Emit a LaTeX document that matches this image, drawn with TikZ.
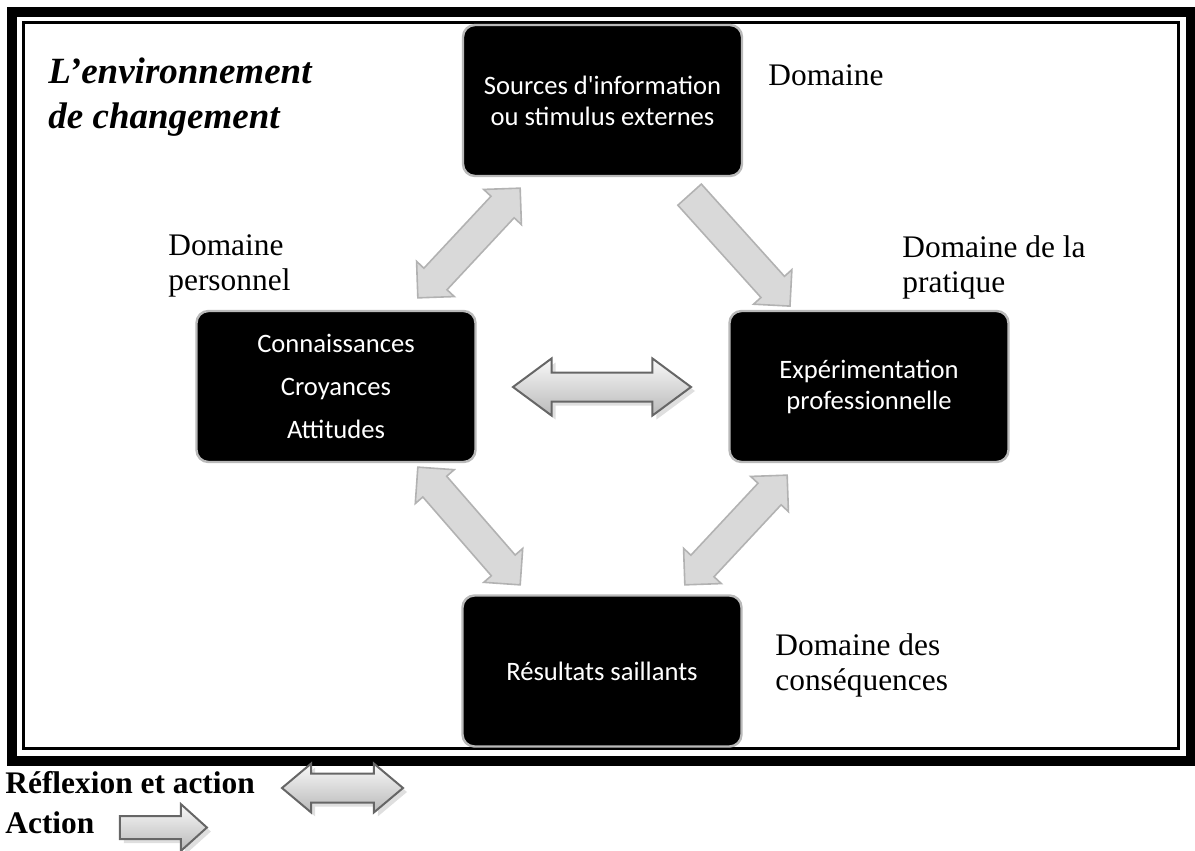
\documentclass[tikz,border=0pt]{standalone}
\usepackage{fontspec}
\setmainfont{Liberation Serif}
\newfontfamily\boxfont{Carlito}
\usepackage{tikz}
\usetikzlibrary{shapes.arrows}
\usetikzlibrary{shadows}
\pgfdeclarelayer{edgelayer}
\pgfdeclarelayer{nodelayer}
\pgfsetlayers{edgelayer,nodelayer,main}
\tikzstyle{dombox}=[rectangle,rounded corners=6pt,fill=black,draw=gray!55,line width=1.2pt,text=white,font=\boxfont\fontsize{13.3}{15.5}\selectfont,align=center,minimum width=139.5pt,minimum height=75.5pt,inner sep=0pt]
\tikzstyle{domtext}=[anchor=base west,align=left,inner sep=0pt,font=\fontsize{15.7}{17.5}\selectfont]
\tikzstyle{reflexarrow}=[double arrow,double arrow tip angle=90,double arrow head extend=5pt,minimum width=0pt,inner xsep=0pt,inner ysep=7.5pt,draw=gray!60,line width=0.8pt,top color=gray!30,middle color=white,bottom color=gray!30]
\tikzstyle{actarrow}=[single arrow,single arrow tip angle=90,single arrow head extend=5pt,minimum width=0pt,inner xsep=0pt,inner ysep=7.5pt,draw=gray!60,line width=0.8pt,top color=gray!30,middle color=white,bottom color=gray!30]
\tikzstyle{bigarrow}=[double arrow,minimum width=0pt,inner xsep=0pt,draw=black!60,line width=1pt,top color=gray!5,bottom color=gray!55,drop shadow={opacity=0.25,shadow xshift=2pt,shadow yshift=-2pt}]

\begin{document}
\begin{tikzpicture}[x=0.5pt,y=-0.5pt]
	\useasboundingbox (0,0) rectangle (1195,851);
	\begin{pgfonlayer}{nodelayer}
		\node [style=dombox] (0) at (602.5, 100.5) {Sources d'information\\ou stimulus externes};
		\node [style=dombox] (1) at (336, 386.5) {Connaissances\\[6pt]Croyances\\[6pt]Attitudes};
		\node [style=dombox] (2) at (869, 386.5) {\raisebox{-3pt}{Expérimentation}\\\raisebox{-3pt}{professionnelle}};
		\node [style=dombox] (3) at (602, 671) {Résultats saillants};
		\node [style=domtext, font=\bfseries\itshape\fontsize{18.5}{22.5}\selectfont] (t) at (48, 128) {L’environnement\\de changement};
		\node [style=domtext] (d0) at (768, 85) {Domaine};
		\node [style=domtext] (d1) at (168, 290) {Domaine\\personnel};
		\node [style=domtext] (d2) at (902, 292) {Domaine de la\\pratique};
		\node [style=domtext] (d3) at (775, 690) {Domaine des\\conséquences};
		\node [style=domtext, font=\bfseries\fontsize{15.7}{17.5}\selectfont] (l0) at (5, 793) {Réflexion et action};
		\node [style=domtext, font=\bfseries\fontsize{15.7}{17.5}\selectfont] (l1) at (5, 833) {Action};
	\end{pgfonlayer}
	\begin{pgfonlayer}{edgelayer}
		\draw [line width=5pt] (12, 12) rectangle (1190.5, 760.5);
		\draw [line width=1.5pt] (23, 22.5) rectangle (1178.5, 748.5);
		\node [style=reflexarrow, rotate=47, minimum height=75pt] (a0) at (469, 243) {};
		\node [style=actarrow, rotate=-48, minimum height=75pt] (a1) at (734.5, 244.5) {};
		\node [style=reflexarrow, rotate=-49, minimum height=78pt] (a2) at (469, 526) {};
		\node [style=reflexarrow, rotate=47, minimum height=75pt] (a3) at (736, 530) {};
		\node [style=bigarrow, double arrow tip angle=73, double arrow head extend=7pt, inner ysep=6.75pt, minimum height=89pt] (a4) at (602, 387) {};
		\node [style=bigarrow, double arrow tip angle=80, double arrow head extend=5pt, inner ysep=6.75pt, minimum height=60.5pt] (a5) at (342.5, 788) {};
		\node [style=bigarrow, single arrow, single arrow tip angle=84, single arrow head extend=6pt, inner ysep=5.25pt, minimum height=43.5pt] (a6) at (157, 827.5) {};
	\end{pgfonlayer}
\end{tikzpicture}
\end{document}
